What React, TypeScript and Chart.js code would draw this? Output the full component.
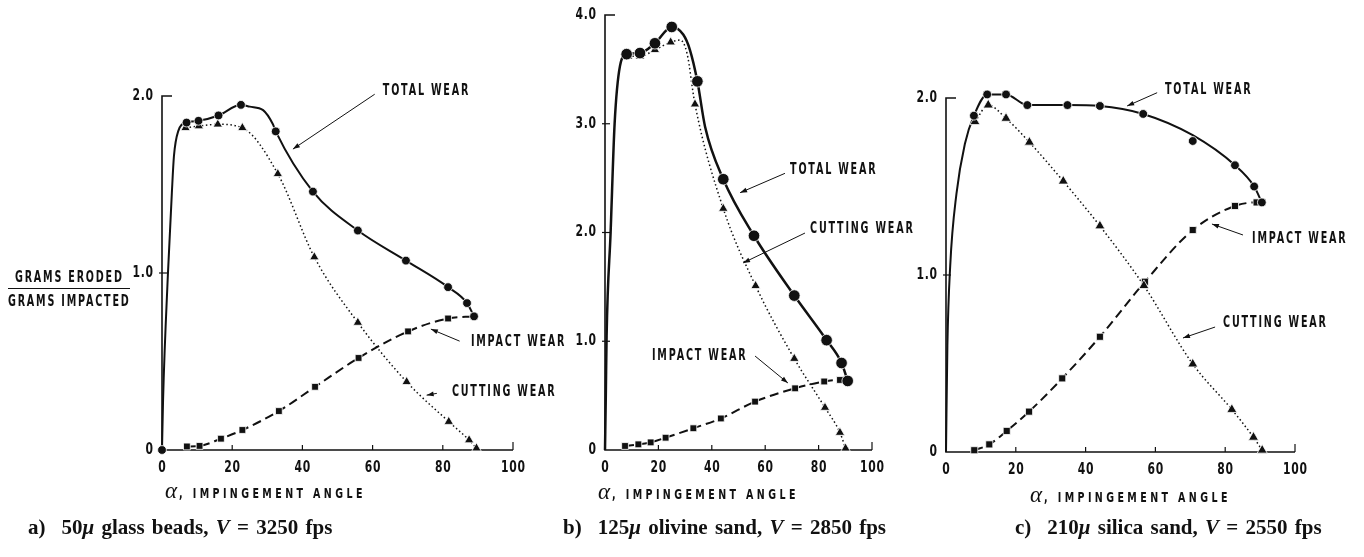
import React, { useEffect, useRef } from 'react';
import { Chart, registerables } from 'chart.js';

Chart.register(...registerables);

const W = 1364;
const H = 557;
const INK = '#111';
const SANS = "'DejaVu Sans', 'Noto Sans', sans-serif";
const SERIF = "'Liberation Serif', 'DejaVu Serif', serif";
const CONDENSE = 0.6;

const xTickValues = [0, 20, 40, 60, 80, 100];

// ---------- Panel a: 50μ glass beads, V = 3250 fps ----------
const aTotalAngle = [0, 7.0, 10.4, 16.1, 22.5, 32.4, 43.0, 55.8, 69.5, 81.5, 86.9, 88.9];
const aTotalWear = [0, 1.85, 1.86, 1.89, 1.95, 1.8, 1.46, 1.24, 1.07, 0.92, 0.83, 0.755];
const aTotalCurveAngle = [0, 0.3, 1.7, 2.8, 3.4, 4.6, 7.0, 10.4, 16.1, 22.5, 25.0, 28.8, 31.6, 32.4, 43.0, 55.8, 69.5, 81.5, 86.9, 88.9];
const aTotalCurveWear = [0, 0.28, 1.0, 1.45, 1.66, 1.8, 1.85, 1.86, 1.89, 1.95, 1.94, 1.92, 1.84, 1.8, 1.46, 1.24, 1.07, 0.92, 0.83, 0.755];
const aCutAngle = [6.7, 10.5, 15.9, 22.9, 33.0, 43.4, 55.8, 69.7, 81.7, 87.5, 89.6];
const aCutWear = [1.82, 1.83, 1.84, 1.82, 1.56, 1.09, 0.72, 0.385, 0.16, 0.056, 0.01];
const aImpAngle = [7.1, 10.7, 16.8, 22.9, 33.3, 43.6, 56.0, 70.1, 81.5, 88.9];
const aImpWear = [0.02, 0.023, 0.064, 0.113, 0.22, 0.357, 0.52, 0.67, 0.743, 0.755];

// ---------- Panel b: 125μ olivine sand, V = 2850 fps ----------
const bTotalAngle = [8.1, 13.1, 18.7, 25.0, 34.6, 44.3, 55.8, 70.9, 83.0, 88.6, 90.9];
const bTotalWear = [3.64, 3.65, 3.74, 3.89, 3.39, 2.49, 1.97, 1.42, 1.01, 0.8, 0.635];
const bTotalCurveAngle = [0, 0.3, 0.6, 2.1, 3.6, 5.6, 8.1, 13.1, 18.7, 25.0, 29.3, 31.8, 34.6, 37.5, 44.3, 55.8, 70.9, 83.0, 88.6, 90.9];
const bTotalCurveWear = [0, 0.5, 1.05, 2.0, 3.0, 3.53, 3.64, 3.65, 3.74, 3.89, 3.82, 3.68, 3.39, 2.97, 2.49, 1.97, 1.42, 1.01, 0.8, 0.635];
const bCutAngle = [8.7, 13.1, 18.7, 24.6, 33.7, 44.3, 56.4, 70.9, 82.4, 88.0, 90.1];
const bCutWear = [3.62, 3.62, 3.68, 3.75, 3.18, 2.22, 1.51, 0.84, 0.39, 0.16, 0.015];
const bCutCurveAngle = [8.7, 13.1, 18.7, 24.6, 28.1, 30.7, 33.7, 44.3, 56.4, 70.9, 82.4, 88.0, 90.1];
const bCutCurveWear = [3.62, 3.62, 3.68, 3.75, 3.77, 3.65, 3.18, 2.22, 1.51, 0.84, 0.39, 0.16, 0.015];
const bImpAngle = [7.5, 12.5, 17.1, 22.7, 33.1, 43.4, 56.2, 71.2, 82.1, 88.0, 90.9];
const bImpWear = [0.037, 0.052, 0.07, 0.113, 0.2, 0.29, 0.445, 0.567, 0.63, 0.644, 0.635];

// ---------- Panel c: 210μ silica sand, V = 2550 fps ----------
const cTotalAngle = [8.0, 11.8, 17.2, 23.3, 34.8, 44.1, 56.5, 70.7, 82.8, 88.3, 90.5];
const cTotalWear = [1.9, 2.02, 2.02, 1.96, 1.96, 1.955, 1.91, 1.757, 1.62, 1.5, 1.41];
const cTotalCurveAngle = [0, 0.4, 1.2, 3.0, 5.4, 8.0, 11.8, 17.2, 23.3, 34.8, 44.1, 56.5, 70.7, 82.8, 88.3, 90.5];
const cTotalCurveWear = [0, 0.6, 1.05, 1.46, 1.74, 1.9, 2.02, 2.02, 1.96, 1.96, 1.955, 1.91, 1.79, 1.62, 1.5, 1.41];
const cCutAngle = [8.3, 12.1, 17.2, 23.9, 33.6, 44.1, 56.7, 70.7, 81.9, 88.1, 90.6];
const cCutWear = [1.866, 1.96, 1.885, 1.75, 1.53, 1.277, 0.94, 0.497, 0.24, 0.083, 0.01];
const cImpAngle = [8.1, 12.4, 17.4, 23.8, 33.3, 44.1, 57.0, 70.7, 82.8, 89.0, 90.5];
const cImpWear = [0.01, 0.043, 0.119, 0.228, 0.416, 0.651, 0.962, 1.254, 1.39, 1.41, 1.41];

// Annotation labels: [text, labelAngle, labelWear, arrowFromAngle, arrowFromWear, arrowToAngle, arrowToWear]
type Note = [string, number, number, number, number, number, number];
const aNotes: Note[] = [
  ['TOTAL WEAR', 62.9, 2.03, 60.6, 2.01, 37.3, 1.7],
  ['IMPACT WEAR', 88.0, 0.61, 84.8, 0.615, 76.6, 0.683],
  ['CUTTING WEAR', 82.6, 0.327, 78.3, 0.32, 75.4, 0.31],
];
const bNotes: Note[] = [
  ['TOTAL WEAR', 69.3, 2.575, 67.4, 2.544, 50.6, 2.366],
  ['CUTTING WEAR', 76.8, 2.03, 74.9, 1.995, 51.7, 1.72],
  ['IMPACT WEAR', 17.6, 0.864, 56.2, 0.864, 68.5, 0.616],
];
const cNotes: Note[] = [
  ['TOTAL WEAR', 62.75, 2.045, 60.5, 2.03, 51.9, 1.955],
  ['IMPACT WEAR', 87.7, 1.203, 85.1, 1.226, 76.2, 1.288],
  ['CUTTING WEAR', 79.4, 0.729, 77.1, 0.706, 67.9, 0.644],
];

type Panel = {
  area: { left: number; right: number; top: number; bottom: number };
  yMax: number;
  totalAngle: number[]; totalWear: number[];
  totalCurveAngle: number[]; totalCurveWear: number[];
  cutAngle: number[]; cutWear: number[];
  cutCurveAngle: number[]; cutCurveWear: number[];
  impAngle: number[]; impWear: number[];
  notes: Note[];
  circleR: number; triR: number; rectR: number; totalLW: number;
};

const panels: Panel[] = [
  {
    area: { left: 162, right: 513, top: 96, bottom: 450 }, yMax: 2,
    totalAngle: aTotalAngle, totalWear: aTotalWear,
    totalCurveAngle: aTotalCurveAngle, totalCurveWear: aTotalCurveWear,
    cutAngle: aCutAngle, cutWear: aCutWear, cutCurveAngle: aCutAngle, cutCurveWear: aCutWear,
    impAngle: aImpAngle, impWear: aImpWear, notes: aNotes,
    circleR: 4.4, triR: 5.4, rectR: 4.8, totalLW: 2,
  },
  {
    area: { left: 605, right: 872, top: 15, bottom: 450 }, yMax: 4,
    totalAngle: bTotalAngle, totalWear: bTotalWear,
    totalCurveAngle: bTotalCurveAngle, totalCurveWear: bTotalCurveWear,
    cutAngle: bCutAngle, cutWear: bCutWear, cutCurveAngle: bCutCurveAngle, cutCurveWear: bCutCurveWear,
    impAngle: bImpAngle, impWear: bImpWear, notes: bNotes,
    circleR: 5.8, triR: 5.4, rectR: 4.8, totalLW: 2.5,
  },
  {
    area: { left: 946, right: 1295, top: 98, bottom: 452 }, yMax: 2,
    totalAngle: cTotalAngle, totalWear: cTotalWear,
    totalCurveAngle: cTotalCurveAngle, totalCurveWear: cTotalCurveWear,
    cutAngle: cCutAngle, cutWear: cCutWear, cutCurveAngle: cCutAngle, cutCurveWear: cCutWear,
    impAngle: cImpAngle, impWear: cImpWear, notes: cNotes,
    circleR: 4.4, triR: 5.8, rectR: 5, totalLW: 2,
  },
];

const pts = (xs: number[], ys: number[]) => xs.map((x, i) => ({ x, y: ys[i] }));

function drawCondensed(ctx: CanvasRenderingContext2D, text: string, x: number, y: number, align: 'left' | 'right' | 'center', size: number, sx: number, ls: number) {
  ctx.save();
  ctx.font = `bold ${size}px ${SANS}`;
  try { (ctx as any).letterSpacing = `${ls}px`; } catch (e) { /* ignore */ }
  const w = ctx.measureText(text).width - ls;
  ctx.translate(x, y);
  ctx.scale(sx, 1);
  ctx.textAlign = 'left';
  ctx.textBaseline = 'middle';
  const ox = align === 'right' ? -w : align === 'center' ? -w / 2 : 0;
  ctx.fillStyle = INK;
  ctx.fillText(text, ox, 0);
  ctx.restore();
}

function buildChart(canvas: HTMLCanvasElement, p: Panel) {
  const YW = 40;
  const XH = 40;

  const decor = {
    id: 'decor',
    beforeDatasetsDraw(chart: any) {
      const { ctx, chartArea, scales } = chart;
      const { left, right, top, bottom } = chartArea;
      ctx.save();
      ctx.strokeStyle = INK;
      ctx.lineWidth = 1.6;
      ctx.beginPath();
      ctx.moveTo(left + 10, top);
      ctx.lineTo(left, top);
      ctx.lineTo(left, bottom);
      ctx.lineTo(right, bottom);
      ctx.stroke();
      ctx.lineWidth = 1.2;
      for (let v = 1; v < p.yMax; v++) {
        const py = scales.y.getPixelForValue(v);
        ctx.beginPath();
        ctx.moveTo(left - 3, py);
        ctx.lineTo(left + 5, py);
        ctx.stroke();
      }
      xTickValues.slice(1).forEach((v) => {
        const px = scales.x.getPixelForValue(v);
        ctx.beginPath();
        ctx.moveTo(px, bottom);
        ctx.lineTo(px, bottom - (v === 100 ? 8 : 5));
        ctx.stroke();
      });
      ctx.restore();
      // tick labels
      for (let v = 0; v <= p.yMax; v++) {
        drawCondensed(ctx, v === 0 ? '0' : v.toFixed(1), left - 9, scales.y.getPixelForValue(v), 'right', 15, 0.72, 1);
      }
      xTickValues.forEach((v) => {
        drawCondensed(ctx, String(v), scales.x.getPixelForValue(v), bottom + 18, 'center', 15, 0.72, 1);
      });
    },
    afterDatasetsDraw(chart: any) {
      const { ctx, scales } = chart;
      ctx.save();
      ctx.fillStyle = INK;
      ctx.strokeStyle = INK;
      ctx.lineWidth = 1;
      p.notes.forEach(([text, tx, ty, fx, fy, ex, ey]) => {
        drawCondensed(ctx, text, scales.x.getPixelForValue(tx), scales.y.getPixelForValue(ty), 'left', 16, CONDENSE, 3);
        const x1 = scales.x.getPixelForValue(fx);
        const y1 = scales.y.getPixelForValue(fy);
        const x2 = scales.x.getPixelForValue(ex);
        const y2 = scales.y.getPixelForValue(ey);
        ctx.beginPath();
        ctx.moveTo(x1, y1);
        ctx.lineTo(x2, y2);
        ctx.stroke();
        const ang = Math.atan2(y2 - y1, x2 - x1);
        const L = 7;
        const Wd = 2.4;
        ctx.beginPath();
        ctx.moveTo(x2, y2);
        ctx.lineTo(x2 - L * Math.cos(ang) + Wd * Math.sin(ang), y2 - L * Math.sin(ang) - Wd * Math.cos(ang));
        ctx.lineTo(x2 - L * Math.cos(ang) - Wd * Math.sin(ang), y2 - L * Math.sin(ang) + Wd * Math.cos(ang));
        ctx.closePath();
        ctx.fill();
      });
      ctx.restore();
    },
  };

  return new Chart(canvas, {
    type: 'scatter',
    data: {
      datasets: [
        {
          label: 'Total wear', data: pts(p.totalAngle, p.totalWear), showLine: false,
          pointStyle: 'circle', pointRadius: p.circleR, pointBackgroundColor: INK,
          pointBorderColor: '#fff', pointBorderWidth: 0.8, order: 0, clip: false,
        },
        {
          label: 'Cutting wear', data: pts(p.cutAngle, p.cutWear), showLine: false,
          pointStyle: 'triangle', pointRadius: p.triR, pointBackgroundColor: INK,
          pointBorderColor: '#fff', pointBorderWidth: 0.8, order: 0, clip: false,
        },
        {
          label: 'Impact wear', data: pts(p.impAngle, p.impWear), showLine: false,
          pointStyle: 'rect', pointRadius: p.rectR, pointBackgroundColor: INK,
          pointBorderColor: '#fff', pointBorderWidth: 0.8, order: 0, clip: false,
        },
        {
          label: 'Total wear curve', data: pts(p.totalCurveAngle, p.totalCurveWear), showLine: true,
          borderColor: INK, borderWidth: p.totalLW, pointRadius: 0, cubicInterpolationMode: 'monotone',
          order: 1, clip: false,
        },
        {
          label: 'Cutting wear curve', data: pts(p.cutCurveAngle, p.cutCurveWear), showLine: true,
          borderColor: INK, borderWidth: 1.5, borderDash: [1.5, 2.6], pointRadius: 0,
          cubicInterpolationMode: 'monotone', order: 1, clip: false,
        },
        {
          label: 'Impact wear curve', data: pts(p.impAngle, p.impWear), showLine: true,
          borderColor: INK, borderWidth: 2, borderDash: [9, 5], pointRadius: 0,
          cubicInterpolationMode: 'monotone', order: 1, clip: false,
        },
      ] as any,
    },
    options: {
      responsive: false,
      animation: false,
      events: [],
      layout: {
        padding: {
          left: p.area.left - YW,
          right: W - p.area.right,
          top: p.area.top,
          bottom: H - p.area.bottom - XH,
        },
      },
      plugins: { legend: { display: false }, tooltip: { enabled: false } },
      scales: {
        x: {
          type: 'linear', min: 0, max: 100,
          ticks: { display: false, stepSize: 20 },
          grid: { display: false, drawTicks: false },
          border: { display: false },
          afterFit: (s: any) => { s.height = XH; },
        },
        y: {
          type: 'linear', min: 0, max: p.yMax,
          ticks: { display: false, stepSize: 1 },
          grid: { display: false, drawTicks: false },
          border: { display: false },
          afterFit: (s: any) => { s.width = YW; },
        },
      },
    } as any,
    plugins: [decor],
  });
}

function Cond({ text, left, cy, size = 16, sx = CONDENSE, ls = 3 }: { text: string; left: number; cy: number; size?: number; sx?: number; ls?: number }) {
  return (
    <span
      style={{
        position: 'absolute', left, top: cy - size / 2 - 1, lineHeight: `${size + 2}px`, height: size + 2,
        fontFamily: SANS, fontWeight: 'bold', fontSize: size, letterSpacing: `${ls}px`, color: INK,
        whiteSpace: 'nowrap', display: 'inline-block', transform: `scaleX(${sx})`, transformOrigin: 'left center',
      }}
    >
      {text}
    </span>
  );
}

function AxisTitle({ left, cy }: { left: number; cy: number }) {
  return (
    <>
      <span style={{ position: 'absolute', left, top: cy - 14, lineHeight: '26px', fontFamily: SERIF, fontStyle: 'italic', fontSize: 23, color: INK }}>α</span>
      <Cond text=", IMPINGEMENT ANGLE" left={left + 14} cy={cy + 1} size={14} sx={0.68} ls={5} />
    </>
  );
}

function Caption({ left, tag, size, material, speed }: { left: number; tag: string; size: string; material: string; speed: string }) {
  return (
    <div style={{ position: 'absolute', left, top: 514, fontFamily: SERIF, fontWeight: 'bold', fontSize: 21, wordSpacing: '2px', whiteSpace: 'nowrap', color: INK, lineHeight: '26px' }}>
      <span style={{ marginRight: 16 }}>{tag}</span>
      {size}<i>μ</i> {material}, <i>V</i> = {speed} fps
    </div>
  );
}

export default function App() {
  const r0 = useRef<HTMLCanvasElement>(null);
  const r1 = useRef<HTMLCanvasElement>(null);
  const r2 = useRef<HTMLCanvasElement>(null);

  useEffect(() => {
    const refs = [r0, r1, r2];
    const charts = refs.map((r, i) => buildChart(r.current as HTMLCanvasElement, panels[i]));
    return () => charts.forEach((c) => c.destroy());
  }, []);

  const canvasStyle: React.CSSProperties = { position: 'absolute', left: 0, top: 0, width: W, height: H };

  return (
    <div style={{ position: 'fixed', left: 0, top: 0, width: W, height: H, background: '#fff', overflow: 'hidden' }}>
      <canvas ref={r0} width={W} height={H} style={canvasStyle} />
      <canvas ref={r1} width={W} height={H} style={canvasStyle} />
      <canvas ref={r2} width={W} height={H} style={canvasStyle} />

      <Cond text="GRAMS ERODED" left={15} cy={277} />
      <div style={{ position: 'absolute', left: 8, top: 288, width: 122, height: 0, borderTop: `1.6px solid ${INK}` }} />
      <Cond text="GRAMS IMPACTED" left={8} cy={301} />

      <AxisTitle left={165} cy={492} />
      <AxisTitle left={598} cy={493} />
      <AxisTitle left={1030} cy={496} />

      <Caption left={28} tag="a)" size="50" material="glass beads" speed="3250" />
      <Caption left={563} tag="b)" size="125" material="olivine sand" speed="2850" />
      <Caption left={1015} tag="c)" size="210" material="silica sand" speed="2550" />
    </div>
  );
}
